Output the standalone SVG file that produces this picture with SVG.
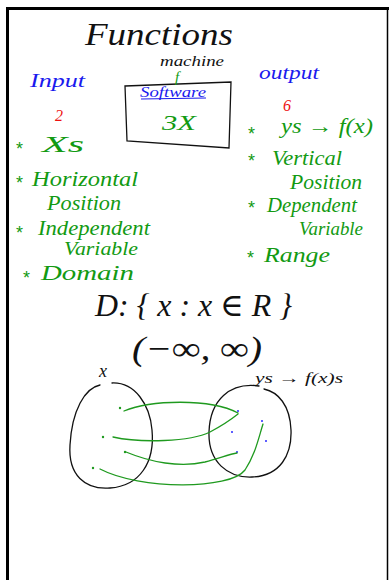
<svg xmlns="http://www.w3.org/2000/svg" width="389" height="580" viewBox="0 0 389 580">
<style>
.hw{font-family:"Liberation Serif","DejaVu Serif",serif;font-style:italic}
.g{fill:#129a12}
.b{fill:#1a1aee}
.r{fill:#ee1111}
.k{fill:#111}
.ast{font-family:"Liberation Sans",sans-serif;font-size:18px;fill:#129a12}
.ink{fill:none;stroke:#111;stroke-width:1.3;stroke-linecap:round}
.gl{fill:none;stroke:#1f9a1f;stroke-width:1.3;stroke-linecap:round}
</style>
<rect x="0" y="0" width="389" height="580" fill="#fff"/>
<g id="frame">
<path d="M7.5,580 V8.5 H389" fill="none" stroke="#000" stroke-width="3"/>
<line x1="387.5" y1="8" x2="387.5" y2="580" stroke="#000" stroke-width="1.5"/>
</g>
<g id="title">
<text class="hw k" x="85" y="45" font-size="32" textLength="148" lengthAdjust="spacingAndGlyphs">Functions</text>
<text class="hw k" x="160" y="66" font-size="14" textLength="64" lengthAdjust="spacingAndGlyphs">machine</text>
</g>
<g id="input">
<text class="hw b" x="30" y="87" font-size="19" textLength="55" lengthAdjust="spacingAndGlyphs">Input</text>
<text class="hw r" x="55" y="121" font-size="16">2</text>
</g>
<g id="software-box">
<path class="ink" d="M125,86 L231,82 L229,148 L127,141 Z"/>
<text class="hw g" x="175" y="82" font-size="15">f</text>
<text class="hw b" x="140" y="97" font-size="15" textLength="66" lengthAdjust="spacingAndGlyphs">Software</text>
<line x1="141" y1="99" x2="206" y2="98" stroke="#1a1aee" stroke-width="1"/>
<text class="hw g" x="162" y="130" font-size="22" textLength="34" lengthAdjust="spacingAndGlyphs">3X</text>
</g>
<g id="output">
<text class="hw b" x="259" y="79" font-size="19" textLength="60" lengthAdjust="spacingAndGlyphs">output</text>
<text class="hw r" x="283" y="111" font-size="16">6</text>
</g>
<g id="input-list">
<text class="ast" x="16" y="155">*</text>
<text class="hw g" x="42" y="152" font-size="24" textLength="42" lengthAdjust="spacingAndGlyphs">Xs</text>
<text class="ast" x="16" y="189">*</text>
<text class="hw g" x="32" y="186" font-size="22" textLength="106" lengthAdjust="spacingAndGlyphs">Horizontal</text>
<text class="hw g" x="47" y="210" font-size="22" textLength="74" lengthAdjust="spacingAndGlyphs">Position</text>
<text class="ast" x="16" y="239">*</text>
<text class="hw g" x="38" y="235" font-size="20" textLength="112" lengthAdjust="spacingAndGlyphs">Independent</text>
<text class="hw g" x="64" y="255" font-size="19" textLength="74" lengthAdjust="spacingAndGlyphs">Variable</text>
<text class="ast" x="23" y="284">*</text>
<text class="hw g" x="41" y="280" font-size="22" textLength="93" lengthAdjust="spacingAndGlyphs">Domain</text>
</g>
<g id="output-list">
<text class="ast" x="248" y="140">*</text>
<text class="hw g" x="281" y="133" font-size="20" textLength="92" lengthAdjust="spacingAndGlyphs">ys → f(x)</text>
<text class="ast" x="248" y="167">*</text>
<text class="hw g" x="272" y="165" font-size="22" textLength="70" lengthAdjust="spacingAndGlyphs">Vertical</text>
<text class="hw g" x="290" y="189" font-size="22" textLength="72" lengthAdjust="spacingAndGlyphs">Position</text>
<text class="ast" x="248" y="214">*</text>
<text class="hw g" x="267" y="212" font-size="20" textLength="90" lengthAdjust="spacingAndGlyphs">Dependent</text>
<text class="hw g" x="299" y="235" font-size="19" textLength="64" lengthAdjust="spacingAndGlyphs">Variable</text>
<text class="ast" x="247" y="264">*</text>
<text class="hw g" x="264" y="262" font-size="22" textLength="66" lengthAdjust="spacingAndGlyphs">Range</text>
</g>
<g id="domain-set">
<text class="hw k" x="95" y="316" font-size="32" textLength="197" lengthAdjust="spacingAndGlyphs">D: { x : x ∈ R }</text>
<text class="hw k" x="132" y="360" font-size="34" textLength="130" lengthAdjust="spacingAndGlyphs">(−∞, ∞)</text>
</g>
<g id="domain-oval">
<path class="ink" d="M100,385 C85,388 72,410 70,445 C68,475 85,490 110,488 C140,486 155,462 152,430 C150,405 135,382 112,383"/>
<text class="hw k" x="99" y="377" font-size="18">x</text>
<g fill="#1f9a1f"><circle cx="120" cy="408" r="1.2"/><circle cx="103" cy="437" r="1.2"/><circle cx="125" cy="452" r="1.2"/><circle cx="93" cy="468" r="1.2"/></g>
</g>
<g id="range-oval">
<path class="ink" d="M259,386 C230,382 210,400 209,432 C208,462 228,478 252,477 C280,476 292,455 291,430 C290,405 278,392 264,389"/>
<text class="hw k" x="255" y="383" font-size="15" textLength="88" lengthAdjust="spacingAndGlyphs">ys → f(x)s</text>
<g fill="#2a2aff"><circle cx="238" cy="411" r="1"/><circle cx="232" cy="432" r="1"/><circle cx="237" cy="452" r="1"/><circle cx="262" cy="421" r="1"/><circle cx="266" cy="441" r="1"/></g>
</g>
<g id="connectors">
<path class="gl" d="M124,411 C150,400 210,398 238,413"/>
<path class="gl" d="M113,437 C140,443 190,442 210,432 C225,424 233,418 238,414"/>
<path class="gl" d="M126,452 C150,462 180,468 205,462 C220,458 230,454 237,453"/>
<path class="gl" d="M100,469 C140,490 230,490 245,470 C255,455 258,440 263,424"/>
</g>
</svg>
